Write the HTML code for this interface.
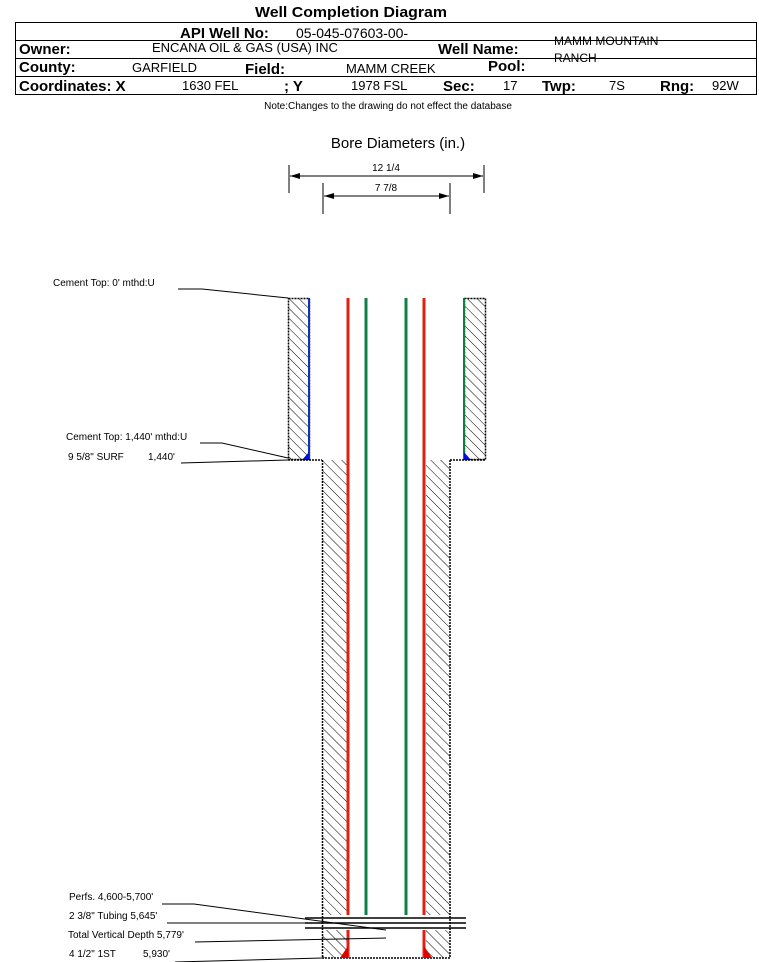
<!DOCTYPE html>
<html><head><meta charset="utf-8"><style>
html,body{margin:0;padding:0;background:#fff;}
svg{display:block;font-family:"Liberation Sans",Arial,sans-serif;}
</style></head><body>
<svg width="759" height="962" viewBox="0 0 759 962" xmlns="http://www.w3.org/2000/svg">
<defs>
<pattern id="h" width="7" height="7" patternUnits="userSpaceOnUse" patternTransform="rotate(-45)">
<rect width="7" height="7" fill="#fff"/><line x1="0" y1="0" x2="0" y2="7" stroke="#000" stroke-width="1"/>
</pattern>
</defs>
<text x="351" y="17" font-size="15" font-weight="bold" text-anchor="middle" textLength="192" lengthAdjust="spacingAndGlyphs">Well Completion Diagram</text>
<rect x="15.5" y="22.5" width="741" height="72" fill="none" stroke="#000"/>
<line x1="15" y1="40.5" x2="757" y2="40.5" stroke="#000"/>
<line x1="15" y1="58.5" x2="757" y2="58.5" stroke="#000"/>
<line x1="15" y1="76.5" x2="757" y2="76.5" stroke="#000"/>
<g font-size="15" font-weight="bold">
<text x="180" y="38">API Well No:</text>
<text x="19" y="54">Owner:</text>
<text x="438" y="54">Well Name:</text>
<text x="19" y="72">County:</text>
<text x="245" y="74">Field:</text>
<text x="488" y="71">Pool:</text>
<text x="19" y="91">Coordinates: X</text>
<text x="284" y="91">; Y</text>
<text x="443" y="91">Sec:</text>
<text x="542" y="91">Twp:</text>
<text x="660" y="91">Rng:</text>
</g>
<g font-size="13">
<text x="296" y="38" font-size="14">05-045-07603-00-</text>
<text x="152" y="52">ENCANA OIL &amp; GAS (USA) INC</text>
<text x="132" y="72">GARFIELD</text>
<text x="346" y="73">MAMM CREEK</text>
<text x="182" y="90">1630 FEL</text>
<text x="351" y="90">1978 FSL</text>
<text x="503" y="90">17</text>
<text x="609" y="90">7S</text>
<text x="712" y="90">92W</text>
<text x="554" y="45" font-size="12">MAMM MOUNTAIN</text>
<text x="554" y="62" font-size="12">RANCH</text>
</g>
<text x="388" y="109" font-size="10" text-anchor="middle">Note:Changes to the drawing do not effect the database</text>
<text x="398" y="148" font-size="15" text-anchor="middle">Bore Diameters (in.)</text>
<g stroke="#000" stroke-width="1">
<line x1="289" y1="165" x2="289" y2="193"/><line x1="484" y1="165" x2="484" y2="193"/>
<line x1="290" y1="176" x2="483" y2="176"/>
<line x1="323" y1="183" x2="323" y2="214"/><line x1="450" y1="183" x2="450" y2="214"/>
<line x1="324" y1="196" x2="449" y2="196"/>
</g>
<path d="M300,173 L290,176 L300,179z M473,173 L483,176 L473,179z M334,193 L324,196 L334,199z M439,193 L449,196 L439,199z"/>
<text x="386" y="171" font-size="10" text-anchor="middle">12 1/4</text>
<text x="386" y="191" font-size="10" text-anchor="middle">7 7/8</text>
<!-- surface casing -->
<rect x="288.5" y="298.5" width="21" height="161" fill="url(#h)" stroke="#000" stroke-dasharray="2,1" stroke-width="1.5"/>
<rect x="464.5" y="298.5" width="21" height="161" fill="url(#h)" stroke="#000" stroke-dasharray="2,1" stroke-width="1.5"/>
<line x1="309" y1="298" x2="309" y2="460" stroke="#1030c0" stroke-width="2"/>
<line x1="464" y1="298" x2="464" y2="460" stroke="#108040" stroke-width="2"/>
<path d="M302,460 L309,452 L309,460z M464,452 L471,460 L464,460z" fill="#0010e0"/>
<line x1="288" y1="460" x2="322" y2="460" stroke="#000" stroke-width="1.5" stroke-dasharray="2,1"/>
<line x1="450" y1="460" x2="486" y2="460" stroke="#000" stroke-width="1.5" stroke-dasharray="2,1"/>
<!-- production hatch -->
<rect x="322.5" y="460" width="24" height="455" fill="url(#h)"/>
<rect x="426" y="460" width="24" height="455" fill="url(#h)"/>
<rect x="322.5" y="930" width="24" height="28" fill="url(#h)"/>
<rect x="426" y="930" width="24" height="28" fill="url(#h)"/>
<g stroke="#000" stroke-width="1.5" stroke-dasharray="2,1">
<line x1="322.5" y1="460" x2="322.5" y2="958"/><line x1="450" y1="460" x2="450" y2="958"/>
<line x1="322" y1="958" x2="450" y2="958"/>
</g>
<!-- casing / tubing -->
<line x1="348" y1="298" x2="348" y2="915" stroke="#e02010" stroke-width="3"/>
<line x1="424" y1="298" x2="424" y2="915" stroke="#e02010" stroke-width="3"/>
<line x1="348" y1="930" x2="348" y2="958" stroke="#e02010" stroke-width="3"/>
<line x1="424" y1="930" x2="424" y2="958" stroke="#e02010" stroke-width="3"/>
<line x1="366" y1="298" x2="366" y2="915" stroke="#10804a" stroke-width="3"/>
<line x1="406" y1="298" x2="406" y2="915" stroke="#10804a" stroke-width="3"/>
<path d="M340,958 L348,946 L348,958z M424,946 L432,958 L424,958z" fill="#e00000"/>
<g stroke="#000" stroke-width="1.5">
<line x1="305" y1="918" x2="466" y2="918"/><line x1="305" y1="923" x2="466" y2="923"/><line x1="305" y1="928" x2="466" y2="928"/>
</g>
<!-- labels -->
<g font-size="10">
<text x="53" y="286">Cement Top: 0' mthd:U</text>
<text x="66" y="440">Cement Top: 1,440' mthd:U</text>
<text x="68" y="460">9 5/8" SURF</text><text x="148" y="460">1,440'</text>
<text x="69" y="900">Perfs. 4,600-5,700'</text>
<text x="69" y="919">2 3/8" Tubing 5,645'</text>
<text x="68" y="938">Total Vertical Depth 5,779'</text>
<text x="69" y="957">4 1/2" 1ST</text><text x="143" y="957">5,930'</text>
</g>
<g stroke="#000" stroke-width="1" fill="none">
<polyline points="178,289 202,289 288,298"/>
<polyline points="200,443 222,443 288,458"/>
<polyline points="181,463 288,460"/>
<polyline points="162,904 194,904 386,930"/>
<polyline points="167,923 305,923"/>
<polyline points="195,942 386,938"/>
<polyline points="175,962 322,958"/>
</g>
</svg>
</body></html>
